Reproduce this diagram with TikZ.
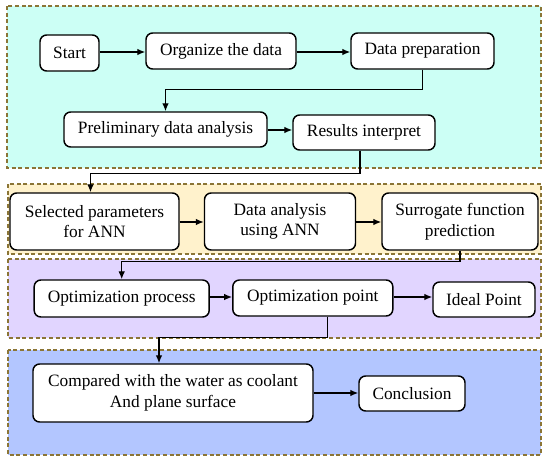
\documentclass[tikz,border=0pt]{standalone}
\usepackage{fontspec}
\setmainfont{Liberation Serif}
\usetikzlibrary{arrows.meta,calc}
\definecolor{pcyan}{HTML}{CCFFF5}
\definecolor{pyellow}{HTML}{FFF2CC}
\definecolor{ppurple}{HTML}{E1D5FF}
\definecolor{pblue}{HTML}{B3C6FF}
\definecolor{pborder}{HTML}{8B7536}
\begin{document}
\begin{tikzpicture}[x=0.75pt,y=-0.75pt,
  panel/.style={draw=pborder,line width=1pt,dash pattern=on 3pt off 2pt},
  bx/.style 2 args={draw=black,fill=white,line width=1.1pt,rounded corners=5pt,
    minimum width=#1*0.75pt,minimum height=#2*0.75pt,inner sep=0pt,align=center,
    font=\fontsize{13pt}{15.5pt}\selectfont},
  conn/.style={draw=black,line width=1pt,-{Latex[length=6pt,width=5pt]}}]
\useasboundingbox (0,0) rectangle (550,458);
% panels
\filldraw[panel,fill=pcyan]   (7,6)   rectangle (541,168);
\filldraw[panel,fill=pyellow] (8,184) rectangle (541,254);
\filldraw[panel,fill=ppurple] (8,259) rectangle (541,338);
\filldraw[panel,fill=pblue]   (8,350) rectangle (541,455);
% nodes
\node[bx={59}{36}]  (start) at (69.5,53)  {Start};
\node[bx={150}{36}] (org)   at (221,51)   {Organize the data};
\node[bx={143}{36}] (dp)    at (422.5,51) {Data preparation};
\node[bx={203}{35}] (pre)   at (165.5,129.5) {Preliminary data analysis};
\node[bx={142}{35}] (res)   at (364,132.5) {Results interpret};
\node[bx={169}{57}] (sel)   at (94.5,221.5) {Selected parameters\\for ANN};
\node[bx={151}{57}] (dan)   at (280,221.5) {Data analysis\\using ANN};
\node[bx={156}{57}] (sur)   at (460,221.5) {Surrogate function\\prediction};
\node[bx={175}{37}] (opr)   at (121.7,298.5) {Optimization process};
\node[bx={160}{36}] (opt)   at (312.8,298) {Optimization point};
\node[bx={102}{35}] (ide)   at (484,299.5) {Ideal Point};
\node[bx={280}{58}] (cmp)   at (173,393) {Compared with the water as coolant\\And plane surface};
\node[bx={106}{35}] (con)   at (412,393.5) {Conclusion};
% connectors
\draw[conn] (start.east |- 0,52) -- (org.west |- 0,52);
\draw[conn] (org.east |- 0,52) -- (dp.west |- 0,52);
\draw[conn] (dp.south) -- ++(0,20) -| (pre.north);
\draw[conn] (pre.east |- 0,130) -- (res.west |- 0,130);
\draw[conn] ($(res.south)+(-4,0)$) -- ++(0,23) -| ($(sel.north)+(-4,0)$);
\draw[conn] (sel.east |- 0,222) -- (dan.west |- 0,222);
\draw[conn] (dan.east |- 0,222) -- (sur.west |- 0,222);
\draw[conn] (sur.south) -- ++(0,11) -| (opr.north);
\draw[conn] (opr.east |- 0,297) -- (opt.west |- 0,297);
\draw[conn] (opt.east |- 0,297) -- (ide.west |- 0,297);
\draw[conn] ($(opt.south)+(15,0)$) -- ++(0,21) -| ($(cmp.north)+(-14,0)$);
\draw[conn] (cmp.east |- 0,393) -- (con.west |- 0,393);
\end{tikzpicture}
\end{document}
